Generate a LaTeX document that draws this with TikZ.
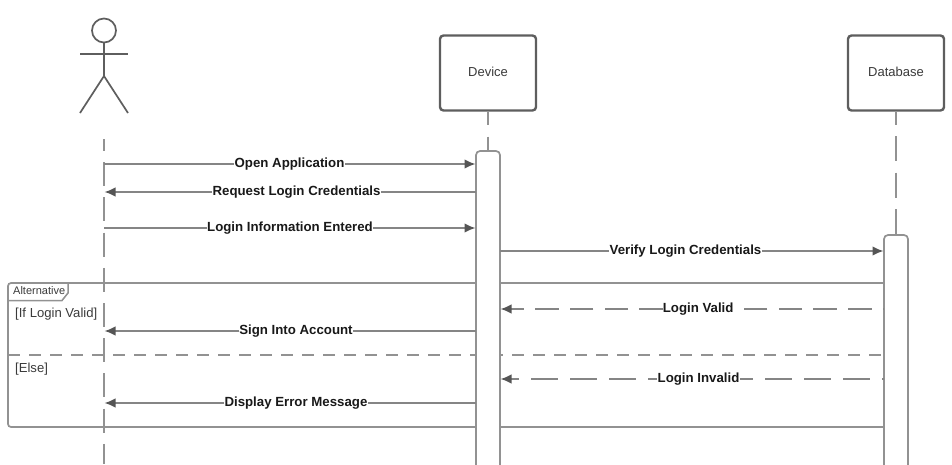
\documentclass[tikz,border=0pt]{standalone}
\usepackage{fontspec}
\setmainfont{Liberation Sans}
\usetikzlibrary{arrows.meta}
\definecolor{boxc}{HTML}{5E5E5E}
\definecolor{linec}{HTML}{929292}
\definecolor{msgc}{HTML}{858585}
\definecolor{headc}{HTML}{555555}
\definecolor{txtc}{HTML}{3A3A3A}
\tikzset{
  actorline/.style={draw=boxc,line width=1.7pt},
  objbox/.style={draw=boxc,line width=2.4pt,rounded corners=3.5pt,fill=white,minimum width=96pt,minimum height=75pt,inner sep=0pt,text=txtc,font=\fontsize{13}{15}\selectfont},
  activation/.style={draw=linec,line width=1.7pt,fill=white,rounded corners=4pt},
  lifeline/.style={draw=linec,line width=1.7pt},
  msg/.style={draw=msgc,line width=1.5pt,-{Latex[length=11pt,width=9.5pt,color=headc]},shorten >=0.5pt},
  retmsg/.style={msg},
  msglabel/.style={fill=white,inner xsep=0.3pt,inner ysep=1pt,yshift=0pt,text=black!90,font=\fontsize{13.25}{15}\selectfont\bfseries},
  frameline/.style={draw=linec,line width=1.7pt},
  guard/.style={anchor=west,inner sep=0pt,text=txtc,font=\fontsize{13.1}{15}\selectfont},
}
\begin{document}
\begin{tikzpicture}[x=1pt,y=-1pt]
\useasboundingbox (0,0) rectangle (952,464);
% named anchors
\coordinate (actorTop) at (104,139);
\coordinate (actorEnd) at (104,464);
\coordinate (hip) at (104,76);
\coordinate (armL) at (80,54);
\coordinate (armR) at (128,54);
\coordinate (legL) at (80,113);
\coordinate (legR) at (128,113);
\coordinate (devAct) at (488,151);
\coordinate (dbAct) at (896,235);
\coordinate (a1) at (104,164);\coordinate (d1) at (476,164);
\coordinate (a2) at (104,192);\coordinate (d2) at (476,192);
\coordinate (a3) at (104,228);\coordinate (d3) at (476,228);
\coordinate (d4) at (500,251);\coordinate (b4) at (884,251);
\coordinate (d5) at (500,309);\coordinate (b5) at (884,309);
\coordinate (a6) at (104,331);\coordinate (d6) at (476,331);
\coordinate (d7) at (500,379);\coordinate (b7) at (884,379);
\coordinate (a8) at (104,403);\coordinate (d8) at (476,403);
% objects
\node[objbox] (device) at (488,73) {\raisebox{-3.3pt}[0pt][0pt]{Device}};
\node[objbox] (database) at (896,73) {\raisebox{-3.3pt}[0pt][0pt]{Database}};
% lifelines
\draw[lifeline,dash pattern=on 24pt off 11.2pt,dash phase=12pt] (actorTop) -- (actorEnd);
\draw[lifeline,dash pattern=on 25pt off 12pt,dash phase=12pt] (device.south) -- (devAct);
\draw[lifeline,dash pattern=on 25pt off 11.5pt,dash phase=12pt] (database.south) -- (dbAct);
% actor
\node[circle,draw=boxc,line width=1.7pt,minimum size=24pt,inner sep=0pt] (head) at (104,30.5) {};
\draw[actorline] (head.south) -- (hip);
\draw[actorline] (armL) -- (armR);
\draw[actorline,line join=round] (legL) -- (hip) -- (legR);
% frame
\draw[frameline,rounded corners=3pt] (884,283) -- (8,283) -- (8,427) -- (884,427);
\draw[frameline,dash pattern=on 12pt off 9pt] (8,355) -- (884,355);
\draw[draw=linec,line width=1.5pt] (8,300.5) -- (62,300.5) -- (68,293) -- (68,283);
\node[anchor=west,inner sep=0pt,text=txtc,font=\fontsize{11}{13}\selectfont] (alt) at (13,290.5) {Alternative};
\node[guard] (g1) at (15,314) {[If Login Valid]};
\node[guard] (g2) at (15,369) {[Else]};
% activations
\draw[activation] (476,470) |- (devAct) -| (500,470);
\draw[activation] (884,470) |- (dbAct) -| (908,470);
% messages
\draw[msg] (a1) -- node[msglabel,pos=0.4987] {Open Application} (d1);
\draw[msg] (d2) -- node[msglabel,pos=0.4825] {Request Login Credentials} (a2);
\draw[msg] (a3) -- node[msglabel,pos=0.5] {Login Information Entered} (d3);
\draw[msg] (d4) -- node[msglabel,pos=0.483] {Verify Login Credentials} (b4);
\draw[retmsg,dash pattern=on 23.5pt off 11.3pt,dash phase=22.5pt] (b5) -- node[msglabel,pos=0.484] {Login Valid} (d5);
\draw[msg] (d6) -- node[msglabel,pos=0.484] {Sign Into Account} (a6);
\draw[retmsg,dash pattern=on 26.5pt off 12.5pt,dash phase=24.5pt] (b7) -- node[msglabel,pos=0.483] {Login Invalid} (d7);
\draw[msg] (d8) -- node[msglabel,pos=0.484] {Display Error Message} (a8);
\end{tikzpicture}
\end{document}
